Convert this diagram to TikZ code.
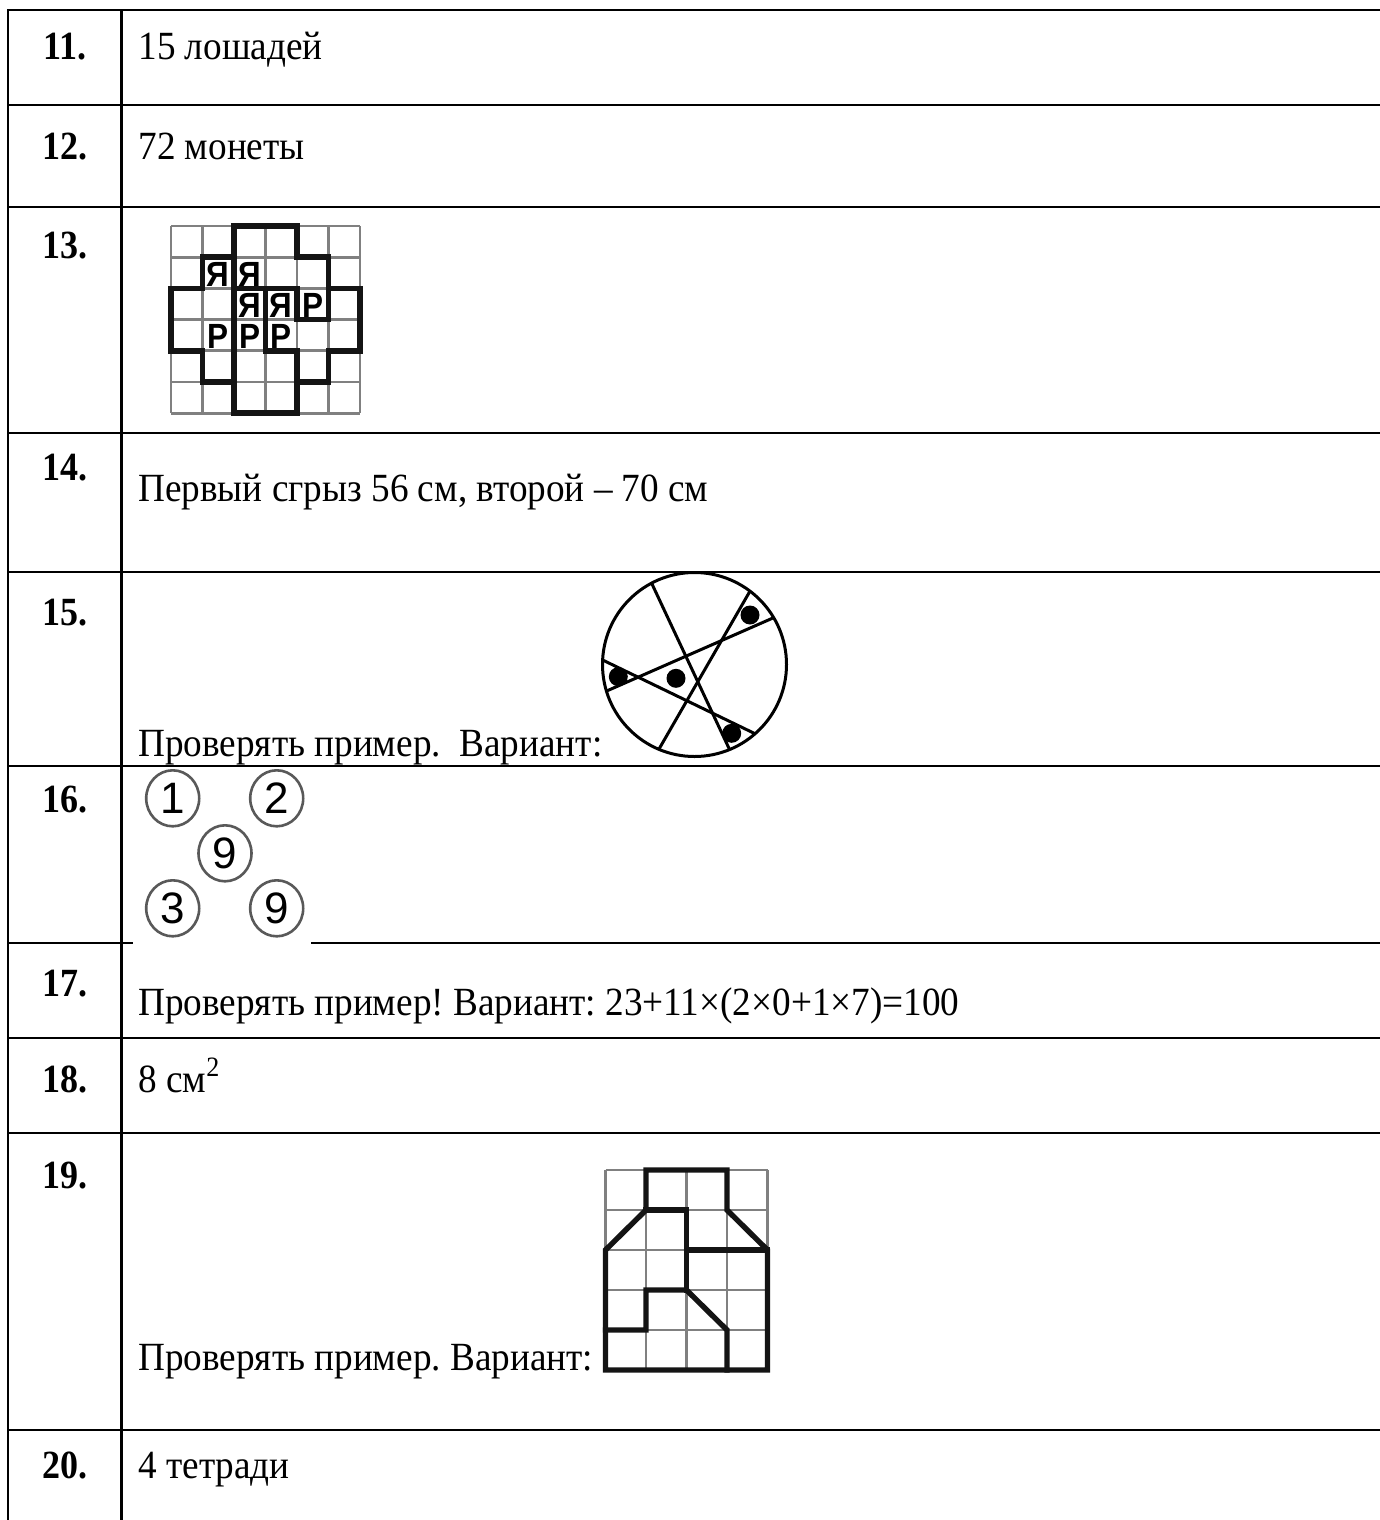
\documentclass[tikz,border=0pt]{standalone}
\usepackage{fontspec}
\usetikzlibrary{calc,shapes.geometric}
\setmainfont{Liberation Serif}[FakeStretch=0.93]
\newfontfamily\labfam{Liberation Serif}[FakeStretch=0.9]
\newfontfamily\digfam{Liberation Sans}
\newfontfamily\letfam{Liberation Sans}[FakeStretch=0.9]
\newcommand\mytxt{\frenchspacing\fontsize{20}{24}\selectfont}
\newcommand\mylab{\labfam\bfseries\fontsize{20}{24}\selectfont}
\begin{document}
\begin{tikzpicture}[x=0.5pt,y=-0.5pt,
  tline/.style={line width=1.35pt,black},
  lab/.style={anchor=base,inner sep=0pt,font=\mylab},
  txt/.style={anchor=base west,inner sep=0pt,font=\mytxt},
  ggrid/.style={draw=black!50,line width=1.35pt},
  gthick/.style={draw=black!92,line width=2.8pt,line join=miter,line cap=rect},
  gthickb/.style={draw=black!92,line width=2.7pt,line join=miter,line cap=rect},
  letr/.style={inner sep=0pt,font=\letfam\bfseries\fontsize{17.5}{17.5}\selectfont},
  cdig/.style={ellipse,draw=black!65,line width=1.3pt,minimum width=26.5pt,minimum height=28pt,inner sep=0pt,font=\digfam\fontsize{22}{22}\selectfont},
  chord/.style={line width=1.5pt,black},
  dot/.style={circle,fill=black,inner sep=0pt,minimum size=9.5pt}]
\useasboundingbox (0,0) rectangle (1380,1520);
\fill[white] (0,0) rectangle (1380,1520);
% table
\draw[tline] (1380,10) -- (8,10) -- (8,1520);
\draw[tline] (121.7,10) -- (121.7,1520);
\foreach \yy in {105,207,433,572,766,943,1038,1133,1430}
  \draw[tline] (8,\yy) -- (1380,\yy);
% labels
\node[lab] (l11) at (65,60) {11.};
\node[lab] (l12) at (65,159) {12.};
\node[lab] (l13) at (65,258) {13.};
\node[lab] (l14) at (65,480) {14.};
\node[lab] (l15) at (65,625) {15.};
\node[lab] (l16) at (65,812) {16.};
\node[lab] (l17) at (65,996) {17.};
\node[lab] (l18) at (65,1092) {18.};
\node[lab] (l19) at (65,1188) {19.};
\node[lab] (l20) at (65,1478) {20.};
% texts
\node[txt] (t11) at (138,60) {15 лошадей};
\node[txt] (t12) at (138,159) {72 монеты};
\node[txt] (t14) at (138,501) {Первый сгрыз 56 см, второй – 70 см};
\node[txt] (t15) at (138,756) {Проверять пример.\ \ Вариант:};
\node[txt] (t17) at (138,1015) {Проверять пример! Вариант: 23+11×(2×0+1×7)=100};
\node[txt] (t18) at (138,1092) {8 см\textsuperscript{2}};
\node[txt] (t19) at (138,1370) {Проверять пример. Вариант:};
\node[txt] (t20) at (138,1478) {4 тетради};
% grid 13
\begin{scope}[shift={(171,226)},x=15.75pt,y=-15.6pt]
  \foreach \k in {0,...,6} {
    \draw[ggrid] (\k,0) -- (\k,6);
    \draw[ggrid] (0,\k) -- (6,\k);
  }
  \draw[gthick] (2,0) -- (4,0) -- (4,1) -- (5,1) -- (5,2) -- (6,2) -- (6,4) -- (5,4) -- (5,5) -- (4,5) -- (4,6) -- (2,6) -- (2,5) -- (1,5) -- (1,4) -- (0,4) -- (0,2) -- (1,2) -- (1,1) -- (2,1) -- cycle;
  \draw[gthick] (2,1) -- (2,5);
  \draw[gthick] (2,2) -- (4,2);
  \draw[gthick] (3,2) -- (3,4) -- (4,4) -- (4,5);
  \draw[gthick] (4,2) -- (4,3) -- (5,3) -- (5,2);
  \foreach \c/\r [count=\i] in {1/1,2/1,2/2,3/2}
    \node[letr] (ya\i) at (\c+0.5,\r+0.55) {Я};
  \foreach \c/\r [count=\i] in {4/2,1/3,2/3,3/3}
    \node[letr] (er\i) at (\c+0.5,\r+0.55) {Р};
\end{scope}
% circle 15
\coordinate (cc) at (694.5,664.5);
\draw[chord] (cc) circle [radius=92];
\draw[chord] ($(cc)+(-117.8:92)$) -- ($(cc)+(67.6:92)$);
\draw[chord] ($(cc)+(-52.9:92)$) -- ($(cc)+(112.8:92)$);
\draw[chord] ($(cc)+(182.8:92)$) -- ($(cc)+(48.8:92)$);
\draw[chord] ($(cc)+(163.2:92)$) -- ($(cc)+(-30.6:92)$);
\node[dot] (d1) at (750,615) {};
\node[dot] (d2) at (618.3,676.7) {};
\node[dot] (d3) at (676,678.3) {};
\node[dot] (d4) at (731.7,733.3) {};
% circled numbers 16
\fill[white] (133,767.5) rectangle (311,945);
\node[cdig] (n1) at (172.7,798.3) {1};
\node[cdig] (n2) at (276.7,798.3) {2};
\node[cdig] (n9a) at (225,853.3) {9};
\node[cdig] (n3) at (172.7,908.3) {3};
\node[cdig] (n9b) at (276.7,908.3) {9};
% grid 19
\begin{scope}[shift={(605.5,1170)},x=20.25pt,y=-20pt]
  \foreach \k in {0,...,4} \draw[ggrid] (\k,0) -- (\k,5);
  \foreach \k in {0,...,5} \draw[ggrid] (0,\k) -- (4,\k);
  \draw[gthickb] (1,1) -- (1,0) -- (3,0) -- (3,1) -- (4,2) -- (4,5) -- (0,5) -- (0,2) -- cycle;
  \draw[gthickb] (1,1) -- (2,1) -- (2,3);
  \draw[gthickb] (2,2) -- (4,2);
  \draw[gthickb] (0,4) -- (1,4) -- (1,3) -- (2,3) -- (3,4) -- (3,5);
\end{scope}
\end{tikzpicture}
\end{document}
